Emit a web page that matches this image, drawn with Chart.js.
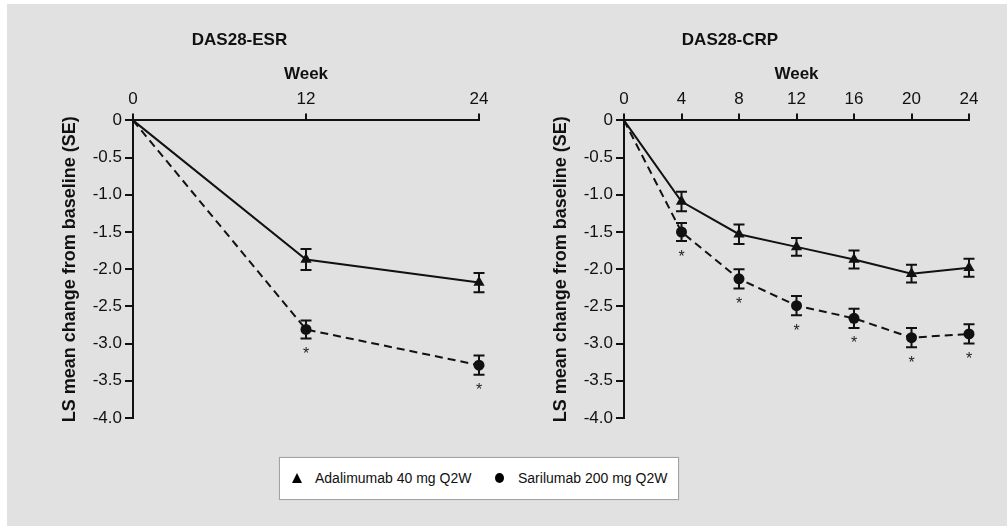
<!DOCTYPE html>
<html>
<head>
<meta charset="utf-8">
<script src="https://cdn.jsdelivr.net/npm/chart.js@4.4.1/dist/chart.umd.min.js"></script>
<style>
  html, body { margin: 0; padding: 0; background: #fff; }
  body { width: 1007px; height: 526px; position: relative; overflow: hidden; font-family: "Liberation Sans", Arial, sans-serif; }
  #panel { position: absolute; left: 7px; top: 4px; right: 0; bottom: 0; background: #e1e1e1; }
  canvas { position: absolute; top: 0; }
  #esrChart { left: 0; }
  #crpChart { left: 491px; }
  #legend {
    position: absolute; left: 279px; top: 457px; width: 398px; height: 41px;
    background: #fff; border: 1px solid #a3a3a3; box-shadow: 0 0 1px #bbb;
    font-size: 14px; color: #111;
  }
  #legend .item { position: absolute; top: 12px; white-space: nowrap; }
  #legend .tri { position: absolute; width: 0; height: 0; border-left: 5.5px solid transparent; border-right: 5.5px solid transparent; border-bottom: 10px solid #000; }
  #legend .dot { position: absolute; width: 9px; height: 10px; border-radius: 50%; background: #000; }
</style>
</head>
<body>
<div id="panel"></div>
<canvas id="esrChart" width="510" height="440"></canvas>
<canvas id="crpChart" width="516" height="440"></canvas>
<div id="legend">
  <span class="tri" style="left:12px; top:15px;"></span>
  <span class="item" style="left:35px;">Adalimumab 40 mg Q2W</span>
  <span class="dot" style="left:215px; top:15px;"></span>
  <span class="item" style="left:238px;">Sarilumab 200 mg Q2W</span>
</div>
<script>
// DAS28 change from baseline, LS mean (SE)
const seriesNames = ['Adalimumab 40 mg Q2W', 'Sarilumab 200 mg Q2W'];

// DAS28-ESR
const esrWeeks = [0, 12, 24];
const esrAda = [0, -1.87, -2.18];
const esrAdaSE = [0, 0.14, 0.13];
const esrSari = [0, -2.81, -3.29];
const esrSariSE = [0, 0.12, 0.13];
const esrSig = [false, true, true];

// DAS28-CRP
const crpWeeks = [0, 4, 8, 12, 16, 20, 24];
const crpAda = [0, -1.09, -1.53, -1.70, -1.87, -2.06, -1.98];
const crpAdaSE = [0, 0.13, 0.13, 0.12, 0.12, 0.12, 0.12];
const crpSari = [0, -1.50, -2.13, -2.49, -2.66, -2.92, -2.87];
const crpSariSE = [0, 0.12, 0.13, 0.13, 0.13, 0.13, 0.13];
const crpSig = [false, true, true, true, true, true, true];

const yTickValues = [0, -0.5, -1.0, -1.5, -2.0, -2.5, -3.0, -3.5, -4.0];

const FONT = '"Liberation Sans", Arial, sans-serif';
const INK = '#111';

// vertical SE bars with caps, plus "*" under significant points
const errorBars = {
  id: 'errorBars',
  afterDatasetsDraw(chart) {
    const ctx = chart.ctx;
    const yScale = chart.scales.y;
    ctx.save();
    chart.data.datasets.forEach((ds, di) => {
      const meta = chart.getDatasetMeta(di);
      meta.data.forEach((pt, i) => {
        const se = ds.se[i];
        if (!se) return;
        const v = ds.data[i].y;
        const yTop = yScale.getPixelForValue(v + se);
        const yBot = yScale.getPixelForValue(v - se);
        ctx.strokeStyle = INK;
        ctx.lineWidth = 2;
        ctx.beginPath();
        ctx.moveTo(pt.x, yTop); ctx.lineTo(pt.x, yBot);
        ctx.moveTo(pt.x - 5.5, yTop); ctx.lineTo(pt.x + 5.5, yTop);
        ctx.moveTo(pt.x - 5.5, yBot); ctx.lineTo(pt.x + 5.5, yBot);
        ctx.stroke();
        if (ds.sig && ds.sig[i]) {
          ctx.fillStyle = '#222';
          ctx.font = '16px ' + FONT;
          ctx.textAlign = 'center';
          ctx.textBaseline = 'alphabetic';
          ctx.fillText('*', pt.x, pt.y + 30);
        }
      });
    });
    ctx.restore();
  }
};

function toXY(weeks, vals) {
  return weeks.map((w, i) => ({ x: w, y: vals[i] }));
}

function makeChart(id, title, weeks, ada, adaSE, sari, sariSE, sig, step) {
  return new Chart(document.getElementById(id), {
    type: 'line',
    data: {
      datasets: [
        {
          label: seriesNames[0],
          data: toXY(weeks, ada),
          se: adaSE,
          borderColor: INK, backgroundColor: INK,
          borderWidth: 2,
          pointStyle: 'triangle',
          pointRadius: c => c.dataIndex === 0 ? 0 : 6.5,
          pointBorderWidth: 0,
          clip: false
        },
        {
          label: seriesNames[1],
          data: toXY(weeks, sari),
          se: sariSE,
          sig: sig,
          borderColor: INK, backgroundColor: INK,
          borderWidth: 2,
          borderDash: [8, 5],
          pointStyle: 'circle',
          pointRadius: c => c.dataIndex === 0 ? 0 : 5.5,
          pointBorderWidth: 0,
          clip: false
        }
      ]
    },
    options: {
      responsive: false,
      animation: false,
      layout: { padding: { left: 0, top: 0, right: id === 'esrChart' ? 31 : 38, bottom: 22 } },
      plugins: {
        legend: { display: false },
        tooltip: { enabled: false },
        title: {
          display: true, text: title, color: INK,
          font: { family: FONT, size: 17, weight: 'bold' },
          padding: { top: 30, bottom: 0 }
        }
      },
      scales: {
        x: {
          type: 'linear', position: 'top', min: 0, max: 24,
          afterFit: s => { s.height = 70; },
          ticks: { stepSize: step, color: INK, font: { family: FONT, size: 17 }, padding: 4, maxRotation: 0 },
          grid: { display: true, drawOnChartArea: false, drawTicks: true, tickLength: 7, color: INK, lineWidth: 2 },
          border: { display: true, color: INK, width: 2 },
          title: { display: true, text: 'Week', color: INK, font: { family: FONT, size: 17, weight: 'bold' }, padding: { top: 14, bottom: 0 } }
        },
        y: {
          type: 'linear', position: 'left', min: -4, max: 0,
          afterFit: s => { s.width = 133; },
          afterBuildTicks: s => { s.ticks = yTickValues.map(v => ({ value: v })); },
          ticks: {
            color: INK, font: { family: FONT, size: 17 }, padding: 3,
            callback: v => v === 0 ? '0' : v.toFixed(1)
          },
          grid: { display: true, drawOnChartArea: false, drawTicks: true, tickLength: 8, color: INK, lineWidth: 2 },
          border: { display: true, color: INK, width: 2 },
          title: { display: true, text: 'LS mean change from baseline (SE)', color: INK, font: { family: FONT, size: 18, weight: 'bold' }, padding: { top: 59, bottom: 0 } }
        }
      }
    },
    plugins: [errorBars]
  });
}

makeChart('esrChart', 'DAS28-ESR', esrWeeks, esrAda, esrAdaSE, esrSari, esrSariSE, esrSig, 12);
makeChart('crpChart', 'DAS28-CRP', crpWeeks, crpAda, crpAdaSE, crpSari, crpSariSE, crpSig, 4);
</script>
</body>
</html>
